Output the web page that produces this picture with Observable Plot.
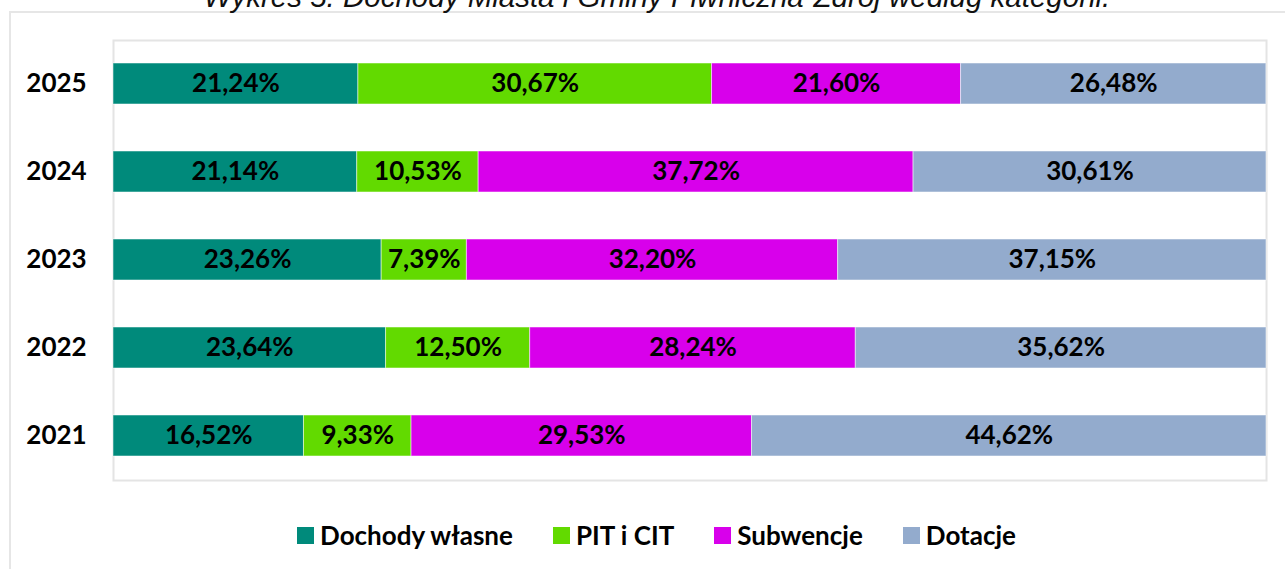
<!DOCTYPE html>
<html>
<head>
<meta charset="utf-8">
<script src="https://cdn.jsdelivr.net/npm/d3@7"></script>
<script src="https://cdn.jsdelivr.net/npm/@observablehq/plot@0.6"></script>
<style>
  html, body { margin: 0; padding: 0; background: #fff; overflow: hidden; }
  #wrap { position: relative; width: 1285px; height: 569px; overflow: hidden; }
  #outer { position: absolute; left: 9px; top: 11px; width: 1320px; height: 620px; border: 2px solid #e6e6e6; box-sizing: border-box; }
  #title { position: absolute; left: 0; width: 1314px; top: -20px; text-align: center;
           font-family: "Liberation Sans", Arial, sans-serif; font-style: italic; font-size: 29.5px; line-height: 34px; color: #111; white-space: nowrap; }
  #chart { position: absolute; left: 0; top: 0; }
  #legend { position: absolute; left: 0; top: 518px; width: 1313px; display: flex; justify-content: center; gap: 40px;
            font-family: Lato, "Open Sans", sans-serif; font-weight: 700; font-size: 26px; line-height: 34px; color: #000; }
  .item { display: flex; align-items: center; gap: 6px; }
  .sw { width: 17px; height: 17px; display: inline-block; }
</style>
</head>
<body>
<div id="wrap">
  <div id="outer"></div>
  <div id="title">Wykres 5. Dochody Miasta i Gminy Piwniczna-Zdrój według kategorii.</div>
  <div id="chart"></div>
  <div id="legend"></div>
</div>
<script>
const years = ["2025", "2024", "2023", "2022", "2021"];
const categories = ["Dochody własne", "PIT i CIT", "Subwencje", "Dotacje"];
const colors = ["#008A7B", "#62DA00", "#D800EB", "#93ABCD"];
const dochodyWlasne = [21.24, 21.14, 23.26, 23.64, 16.52];
const pitCit       = [30.67, 10.53, 7.39, 12.50, 9.33];
const subwencje    = [21.60, 37.72, 32.20, 28.24, 29.53];
const dotacje      = [26.48, 30.61, 37.15, 35.62, 44.62];

const series = [dochodyWlasne, pitCit, subwencje, dotacje];
const data = [];
years.forEach((y, i) => {
  categories.forEach((c, j) => {
    data.push({year: y, category: c, value: series[j][i]});
  });
});
const fmt = v => v.toFixed(2).replace(".", ",") + "%";

const plot = Plot.plot({
  width: 1285,
  height: 490,
  marginLeft: 113,
  marginRight: 19,
  marginTop: 40,
  marginBottom: 10,
  style: {background: "transparent", fontFamily: "Lato, 'Open Sans', sans-serif"},
  x: {domain: [0, 100], axis: null},
  y: {domain: years, paddingInner: 0.53, paddingOuter: 0.265, label: null},
  color: {domain: categories, range: colors},
  marks: [
    Plot.frame({stroke: "#e4e4e4", strokeWidth: 2}),
    Plot.barX(data, Plot.stackX({x: "value", y: "year", fill: "category", stroke: "#ffffff", strokeOpacity: 0.5, strokeWidth: 1})),
    Plot.text(data, Plot.stackX({x: "value", y: "year", z: "category", text: d => fmt(d.value),
      fill: "#000", fontSize: 26, fontWeight: 700})),
    Plot.axisY({tickSize: 0, tickPadding: 57, textAnchor: "middle", fontSize: 26, fontWeight: 700, fill: "#000", label: null})
  ]
});
plot.querySelectorAll("text").forEach(t => t.setAttribute("fill", "#000"));
document.getElementById("chart").appendChild(plot);

const legend = document.getElementById("legend");
categories.forEach((c, i) => {
  const it = document.createElement("div");
  it.className = "item";
  const sw = document.createElement("span");
  sw.className = "sw";
  sw.style.background = colors[i];
  const tx = document.createElement("span");
  tx.textContent = c;
  it.appendChild(sw);
  it.appendChild(tx);
  legend.appendChild(it);
});
</script>
</body>
</html>
